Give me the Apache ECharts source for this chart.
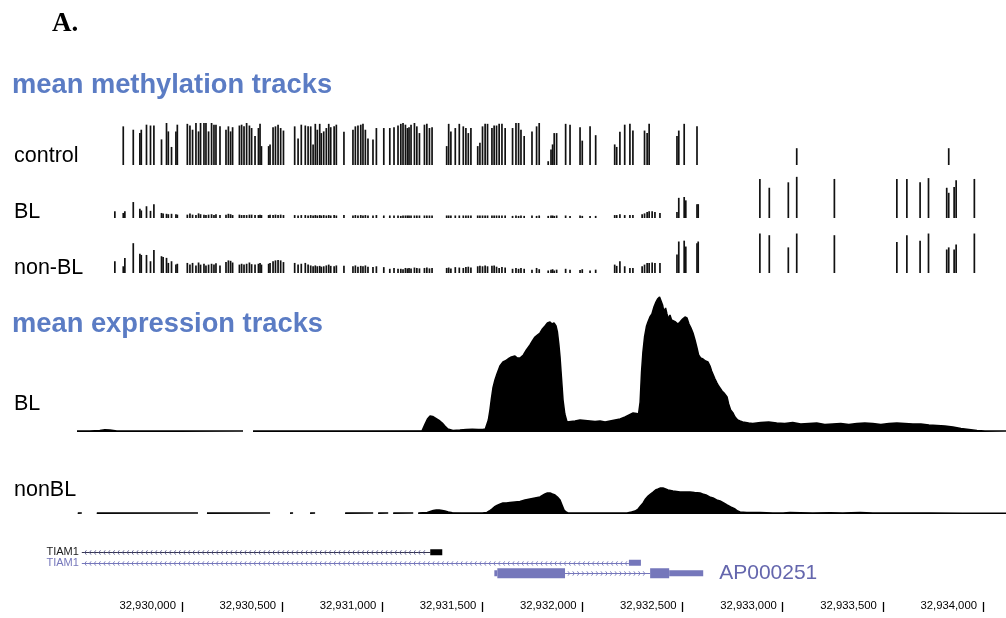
<!DOCTYPE html>
<html>
<head>
<meta charset="utf-8">
<script src="https://cdn.jsdelivr.net/npm/echarts@6/dist/echarts.min.js"></script>
<style>
  html, body { margin: 0; padding: 0; background: #fff; }
  #chart { width: 1006px; height: 618px; }
</style>
</head>
<body>
<div id="chart"></div>
<script>
// Genomic window (chr coordinates) shown by every track
const regionBase = 32929000;          // offsets below are relative to this base
const viewStart = 32929476;
const viewEnd = 32934115;
const tickPositions = [32930000, 32930500, 32931000, 32931500, 32932000, 32932500, 32933000, 32933500, 32934000];

// CpG sites (bp offset from regionBase) and mean methylation per group (0..1, null = no call)
const cpgOffset = [
  665, 707, 715, 757, 790, 797, 823, 843, 860, 898, 906, 923, 932, 948, 970, 977,
  1027, 1040, 1053, 1070, 1083, 1093, 1110, 1120, 1133, 1148, 1160, 1170, 1190, 1220, 1232, 1243, 1253,
  1287, 1298, 1310, 1323, 1337, 1348, 1365, 1382, 1390, 1397, 1433, 1440, 1455, 1467, 1480, 1493, 1507,
  1563, 1580, 1596, 1616, 1630, 1643, 1655, 1666, 1676, 1688, 1696, 1708, 1721, 1733, 1743, 1760, 1771,
  1809, 1854, 1866, 1879, 1893, 1904, 1916, 1929, 1954, 1971, 2008, 2038, 2059, 2079, 2093, 2104, 2116, 2126,
  2134, 2144, 2161, 2173, 2186, 2211, 2223, 2236, 2249, 2322, 2332, 2343, 2365, 2385, 2405, 2418, 2430, 2443,
  2477, 2488, 2501, 2514, 2526, 2548, 2559, 2571, 2584, 2598, 2614, 2651, 2668, 2681, 2693, 2709, 2748, 2771, 2784,
  2829, 2843, 2851, 2859, 2871, 2916, 2938, 2988, 2999, 3038, 3066,
  3161, 3171, 3187, 3211, 3237, 3252, 3298, 3310, 3323, 3333, 3348, 3362, 3387,
  3472, 3481, 3508, 3516, 3572, 3578,
  3886, 3933, 4028, 4070, 4258, 4570, 4620, 4686, 4728, 4819, 4829, 4856, 4866, 4957
];
const controlMeth = [
  null, .92, null, .84, .76, .84, .96, .94, .94, .61, null, 1.0, .80, .43, .80, .96,
  .98, .94, .84, 1.0, .80, 1.0, 1.0, 1.0, .80, 1.0, .96, .96, .92, .84, .92, .80, .90,
  .94, .96, .92, 1.0, .94, .88, .69, .88, .98, .45, .45, .49, .90, .92, .96, .88, .82,
  .92, .63, .96, .94, .92, .92, .49, .98, .84, .98, .76, .80, .88, .98, .90, .92, .96,
  .79, .84, .92, .94, .96, .98, .84, .63, .61, .88, .88, .88, .90, .94, .98, 1.0, .96, .88,
  .90, .96, 1.0, .92, .76, .96, .98, .88, .90, .45, .98, .80, .88, .98, .92, .88, .76, .88,
  .45, .53, .92, .98, .98, .88, .94, .94, .98, .98, .88, .88, 1.0, 1.0, .84, .69, .80, .92, 1.0,
  .09, .37, .49, .76, .76, .98, .96, .90, .58, .92, .71,
  .49, .43, .79, .96, .98, .82, null, .82, .76, .98, null, null, null,
  .69, .82, .98, null, .92, null,
  null, null, null, .40, null, null, null, null, null, null, .40, null, null, null
];
const blMeth = [
  .16, .12, .16, .38, .22, .18, .28, .17, .33, .12, .11, .10, .09, .10, .09, .08,
  .08, .11, .08, .07, .11, .09, .08, .07, .08, .09, .07, .09, .07, .08, .10, .09, .07,
  .08, .07, .07, .07, .08, .08, .07, .07, .08, .07, .07, .08, .07, .08, .07, .08, .07,
  .07, .06, .07, .07, .06, .07, .06, .07, .06, .07, .06, .07, .06, .07, .06, .07, .06,
  .07, .06, .07, .06, .07, .06, .07, .06, .06, .07, .06, .06, .06, .06, .05, .06, .06, .06,
  .06, .06, .06, .06, .06, .06, .06, .06, .06, .06, .06, .06, .06, .06, .06, .06, .06, .06,
  .06, .06, .06, .06, .06, .06, .06, .06, .06, .06, .06, .05, .06, .05, .06, .05, .06, .05, .06,
  .05, .06, .06, .05, .06, .06, .05, .06, .05, .05, .05,
  .07, .07, .09, .07, .07, .07, .09, .11, .14, .16, .16, .14, .12,
  .14, .48, .50, .42, .33, .33,
  .93, .72, .85, .98, .93, .93, .93, .85, .95, .72, .60, .74, .90, .93
];
const nonBlMeth = [
  .28, .16, .36, .71, .46, .43, .43, .28, .55, .40, .38, .36, .24, .28, .20, .22,
  .24, .20, .24, .18, .25, .20, .22, .18, .20, .22, .20, .23, .18, .26, .30, .29, .25,
  .20, .22, .20, .22, .25, .21, .20, .22, .24, .20, .22, .24, .28, .30, .31, .30, .26,
  .24, .20, .22, .24, .20, .18, .16, .18, .16, .17, .15, .16, .18, .20, .17, .16, .18,
  .17, .16, .18, .15, .17, .16, .18, .15, .14, .16, .14, .10, .12, .10, .10, .09, .12, .11,
  .12, .11, .13, .12, .11, .12, .13, .11, .12, .12, .13, .11, .14, .13, .12, .14, .15, .13,
  .16, .17, .16, .18, .16, .17, .18, .15, .12, .14, .13, .10, .12, .10, .12, .10, .08, .12, .09,
  .06, .08, .09, .06, .08, .10, .08, .07, .09, .06, .08,
  .20, .17, .28, .16, .12, .12, .16, .20, .24, .24, .25, .24, .24,
  .44, .75, .77, .63, .71, .75,
  .94, .90, .61, .94, .90, .74, .90, .77, .94, .56, .61, .56, .68, .94
];

// Mean RNA-seq coverage: [bp offset, coverage]; null marks positions without coverage
const blExpression = [
  [476, 1], [540, 1], [590, 1.5], [615, 2.2], [640, 2], [675, 1], [740, 1], [1000, 1], [1305, 1],
  [1306, null], [1354, null],
  [1355, 1], [1600, 1], [1900, 1], [2199, 1.2], [2214, 8], [2226, 13], [2239, 16], [2252, 15.5],
  [2264, 14], [2276, 12.5], [2288, 11], [2300, 9], [2313, 6], [2328, 3], [2353, 1.5], [2388, 2],
  [2420, 2.5], [2450, 2.8], [2480, 2.5], [2503, 2.5], [2515, 3], [2523, 5], [2530, 12], [2538, 22],
  [2545, 33], [2553, 44], [2563, 52], [2573, 58], [2588, 66], [2603, 70], [2613, 71], [2628, 73],
  [2645, 75], [2663, 76], [2675, 74], [2688, 74], [2705, 77], [2720, 82], [2738, 87], [2750, 91],
  [2763, 95], [2775, 97], [2788, 99], [2800, 103], [2813, 106], [2825, 109], [2838, 110], [2848, 108],
  [2858, 109], [2868, 106], [2875, 100], [2882, 88], [2888, 75], [2895, 55], [2903, 32], [2912, 18],
  [2923, 10], [2943, 10.5], [2963, 11], [2988, 12], [3013, 11.5], [3038, 11], [3063, 10.5], [3088, 11],
  [3113, 10], [3138, 11], [3163, 12], [3188, 13], [3213, 15], [3233, 17], [3253, 19], [3270, 18.5],
  [3280, 18], [3288, 30], [3295, 60], [3302, 80], [3310, 95], [3320, 106], [3327, 110], [3337, 115],
  [3347, 118], [3357, 125], [3367, 130], [3375, 133], [3385, 135], [3392, 134], [3400, 127], [3407, 120],
  [3415, 124], [3422, 118], [3430, 113], [3437, 117], [3445, 112], [3452, 114], [3465, 110], [3477, 108],
  [3487, 110], [3500, 113], [3512, 115], [3522, 114], [3532, 108], [3542, 104], [3552, 99], [3562, 92],
  [3572, 84], [3580, 77], [3590, 74], [3602, 73], [3615, 71], [3627, 70], [3637, 66], [3645, 61],
  [3652, 59], [3662, 53], [3672, 49], [3680, 46], [3687, 45], [3697, 41], [3707, 39], [3715, 37],
  [3722, 35], [3730, 28], [3740, 22], [3752, 19], [3762, 15], [3775, 12], [3787, 11], [3800, 10],
  [3830, 9], [3850, 8.5], [3890, 9.5], [3930, 10], [3970, 9], [4010, 8.5], [4050, 9.5], [4090, 8],
  [4130, 8.5], [4170, 9], [4210, 7.5], [4250, 8], [4290, 8.5], [4330, 7.5], [4370, 8.5], [4410, 9],
  [4450, 8.5], [4490, 7.5], [4530, 8.5], [4570, 9], [4610, 8.5], [4650, 8], [4690, 8], [4730, 7],
  [4770, 6.5], [4810, 6], [4850, 5], [4890, 3.5], [4930, 2.5], [4970, 1.5], [5010, 1], [5115, 1]
];
const nonBlExpression = [
  [480, 1], [500, 1], [520, null],
  [575, 1], [1080, 1], [1100, null],
  [1125, 1], [1440, 1], [1490, null],
  [1540, 1], [1555, 1], [1600, null],
  [1640, 1], [1665, 1], [1740, null],
  [1815, 1], [1955, 1], [1968, null],
  [1980, 1], [2030, 1], [2043, null],
  [2055, 1], [2155, 1], [2168, null],
  [2180, 1], [2225, 1.5], [2240, 2.5], [2255, 3.5], [2270, 4], [2285, 4], [2300, 3.5], [2313, 3],
  [2330, 2], [2350, 1.2], [2400, 1], [2450, 1], [2500, 1], [2523, 1.5], [2535, 3], [2548, 5],
  [2560, 7], [2573, 8.5], [2590, 10], [2603, 11], [2620, 11], [2638, 11.5], [2663, 12], [2688, 12.5],
  [2713, 14], [2738, 15], [2763, 16], [2788, 17], [2800, 18.5], [2813, 20], [2825, 21], [2838, 21],
  [2850, 20], [2863, 19], [2875, 17], [2888, 14], [2898, 9], [2908, 4], [2918, 2], [2928, 1],
  [3000, 1], [3088, 1], [3223, 1], [3245, 2], [3263, 3], [3278, 5], [3290, 8], [3303, 11],
  [3315, 15], [3328, 18], [3340, 20], [3353, 22], [3365, 24], [3378, 25], [3390, 26], [3402, 26],
  [3415, 25], [3427, 24], [3440, 23.5], [3452, 23], [3470, 22.5], [3487, 22], [3510, 22], [3537, 22],
  [3560, 21.5], [3587, 21], [3600, 20], [3617, 19], [3635, 17], [3652, 16], [3670, 14], [3687, 13],
  [3705, 11], [3722, 9], [3740, 7], [3762, 5], [3775, 3], [3787, 2], [3820, 1.5], [3887, 1.5],
  [3950, 1], [4002, 1], [4036, 1.5], [4086, 1.3], [4150, 1], [4236, 1.2], [4300, 1], [4386, 1.5],
  [4450, 1], [4586, 1], [4736, 1], [4900, 0.8], [5115, 0.8]
];

// Gene models: [start offset, end offset, row, part (0 intron, 1 thick exon, 2 thin exon/UTR), strand]
const geneParts = [
  [500, 2240, 0, 0, -1], [2240, 2300, 0, 2, -1],
  [500, 3232, 1, 0, -1], [3232, 3292, 1, 2, -1],
  [2560, 2575, 2, 2, 1], [2575, 2913, 2, 1, 1], [2913, 3338, 2, 0, 1], [3338, 3433, 2, 1, 1], [3433, 3603, 2, 2, 1]
];
const geneNames = ['TIAM1', 'TIAM1', 'AP000251'];
const geneLabelAnchor = [500, 500, 3603];     // label placed left of start (rows 0,1) or right of end (row 2)
const geneColors = ['#34344e', '#7577bb', '#7577bb'];
const geneLabelColors = ['#1a1a1a', '#7577bb', '#6466ad'];

const SANS = '"Liberation Sans", Arial, Helvetica, sans-serif';

const chart = echarts.init(document.getElementById('chart'), null, { renderer: 'canvas' });

// Track layout (top, height) of each stacked panel
const panels = [
  { top: 123, height: 42 },   // control methylation
  { top: 176, height: 42 },   // BL methylation
  { top: 231, height: 42 },   // non-BL methylation
  { top: 292, height: 140 },  // BL expression
  { top: 444, height: 70 },   // nonBL expression
  { top: 547, height: 31.5 }, // gene models
  { top: 600, height: 12 }    // coordinate ruler
];

const grids = panels.map(p => ({ left: 77, right: 0, top: p.top, height: p.height }));
const xAxes = panels.map((p, i) => ({
  type: 'value', gridIndex: i, min: viewStart, max: viewEnd,
  show: i === 6,
  axisLine: { show: false },
  splitLine: { show: false },
  axisTick: i === 6 ? { show: true, inside: true, length: 10, customValues: tickPositions, lineStyle: { color: '#000', width: 1.3 } } : { show: false },
  axisLabel: i === 6 ? {
    show: true, inside: true, customValues: tickPositions,
    align: 'right', verticalAlign: 'middle', margin: 6, padding: [0, 6, 0, 0],
    fontFamily: SANS, fontSize: 11.3, color: '#000',
    formatter: v => String(v).replace(/\B(?=(\d{3})+(?!\d))/g, ',')
  } : { show: false }
}));
const yMax = [1, 1, 1, 140, 70, 2.5, 1];
const yAxes = panels.map((p, i) => ({
  type: 'value', gridIndex: i, show: false,
  min: i === 5 ? -0.5 : 0, max: yMax[i], inverse: i === 5,
  splitLine: { show: false }
}));

function methSeries(values, idx) {
  const data = cpgOffset.map((o, i) => [regionBase + o, values[i]]).filter(d => d[1] !== null);
  return {
    type: 'bar', xAxisIndex: idx, yAxisIndex: idx, data,
    barWidth: 1.7, itemStyle: { color: '#111' }, silent: true
  };
}
function exprSeries(points, idx) {
  return {
    type: 'line', xAxisIndex: idx, yAxisIndex: idx,
    data: points.map(p => [regionBase + p[0], p[1] === null ? '-' : p[1]]),
    showSymbol: false, connectNulls: false, smooth: false,
    lineStyle: { color: '#000', width: 1.5 },
    areaStyle: { color: '#000', opacity: 1 }, silent: true
  };
}

function renderGenePart(params, api) {
  const s = api.value(0), e = api.value(1), row = api.value(2), part = api.value(3), strand = api.value(4);
  const p0 = api.coord([s, row]);
  const p1 = api.coord([e, row]);
  const color = geneColors[row];
  const y = Math.round(p0[1]) + 0.5;
  if (part === 0) {
    const children = [{ type: 'line', shape: { x1: p0[0], y1: y, x2: p1[0], y2: y }, style: { stroke: color, lineWidth: 1 } }];
    for (let x = p0[0] + 3; x < p1[0] - 3; x += 4.7) {
      const pts = strand < 0 ? [[x + 1.6, y - 2.2], [x, y], [x + 1.6, y + 2.2]] : [[x, y - 2.2], [x + 1.6, y], [x, y + 2.2]];
      children.push({ type: 'polyline', shape: { points: pts }, style: { stroke: row === 0 ? '#5a5a90' : color, fill: null, lineWidth: 0.9 } });
    }
    return { type: 'group', children };
  }
  const h = part === 1 ? 10 : 6;
  return { type: 'rect', shape: { x: p0[0], y: p0[1] - h / 2, width: p1[0] - p0[0], height: h }, style: { fill: row === 0 ? '#000' : color } };
}

function renderGeneLabel(params, api) {
  const row = api.value(1);
  const p = api.coord([api.value(0), row]);
  const right = row === 2;
  return {
    type: 'text',
    x: right ? p[0] + 16 : p[0] - 3,
    y: p[1],
    style: {
      text: geneNames[row], fill: geneLabelColors[row], fontFamily: SANS,
      fontSize: right ? 21 : 11,
      textAlign: right ? 'left' : 'right', textVerticalAlign: 'middle'
    }
  };
}

function txt(text, x, y, size) {
  return {
    type: 'text', x, y,
    style: { text, fontFamily: SANS, fontSize: size, fill: '#000', textAlign: 'left', textVerticalAlign: 'middle' }
  };
}

const blue = '#5b7cc4';
const graphics = [
  { type: 'text', x: 52, y: 24, style: { text: 'A.', fontFamily: '"Liberation Serif", "Times New Roman", serif', fontWeight: 'bold', fontSize: 27, fill: '#000', textVerticalAlign: 'middle' } },
  { type: 'text', x: 12, y: 85, style: { text: 'mean methylation tracks', fontFamily: SANS, fontWeight: 'bold', fontSize: 27.3, fill: blue, textVerticalAlign: 'middle' } },
  { type: 'text', x: 12, y: 324, style: { text: 'mean expression tracks', fontFamily: SANS, fontWeight: 'bold', fontSize: 27.3, fill: blue, textVerticalAlign: 'middle' } },
  txt('control', 14, 156, 21.5),
  txt('BL', 14, 212, 21.5),
  txt('non-BL', 14, 268, 21.5),
  txt('BL', 14, 404, 21.5),
  txt('nonBL', 14, 490, 21.5)
];

chart.setOption({
  animation: false,
  backgroundColor: '#fff',
  grid: grids,
  xAxis: xAxes,
  yAxis: yAxes,
  graphic: graphics,
  series: [
    methSeries(controlMeth, 0),
    methSeries(blMeth, 1),
    methSeries(nonBlMeth, 2),
    exprSeries(blExpression, 3),
    exprSeries(nonBlExpression, 4),
    {
      type: 'custom', xAxisIndex: 5, yAxisIndex: 5, silent: true,
      renderItem: renderGenePart,
      encode: { x: [0, 1], y: 2 },
      data: geneParts.map(g => [regionBase + g[0], regionBase + g[1], g[2], g[3], g[4]])
    },
    {
      type: 'custom', xAxisIndex: 5, yAxisIndex: 5, silent: true,
      renderItem: renderGeneLabel,
      encode: { x: 0, y: 1 },
      data: geneLabelAnchor.map((o, row) => [regionBase + o, row])
    }
  ]
});
</script>
</body>
</html>
